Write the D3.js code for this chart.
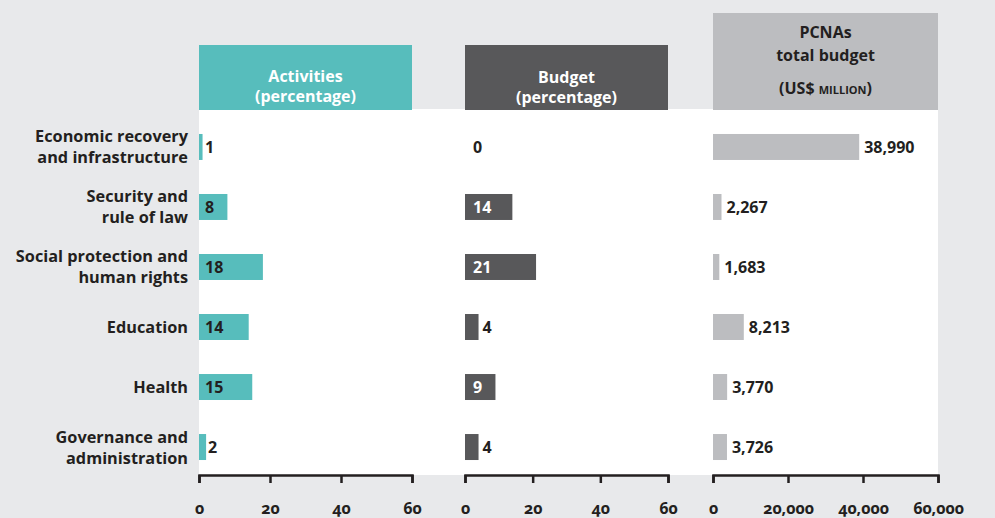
<!DOCTYPE html>
<html><head><meta charset="utf-8">
<script src="https://cdn.jsdelivr.net/npm/d3@7"></script>
<style>
html,body{margin:0;padding:0;background:#e8e9eb;}
svg{display:block;font-family:"Open Sans",sans-serif;}
.onum{font-variant-numeric:oldstyle-nums;font-feature-settings:"onum" 1;}
</style></head>
<body>
<svg id="chart" width="995" height="518"></svg>
<script>
const categories = [
  ["Economic recovery","and infrastructure"],
  ["Security and","rule of law"],
  ["Social protection and","human rights"],
  ["Education"],
  ["Health"],
  ["Governance and","administration"]
];
const activities = [1, 8, 18, 14, 15, 2];
const budget = [0, 14, 21, 4, 9, 4];
const pcnaBudget = [38990, 2267, 1683, 8213, 3770, 3726];
const pctTicks = [0, 20, 40, 60];
const usdTicks = [0, 20000, 40000, 60000];
const headers = {
  act: ["Activities", "(percentage)"],
  bud: ["Budget", "(percentage)"],
  pcna: ["PCNAs", "total budget", "(US$ million)"]
};

const W = 995, H = 518;
const ink = "#231f20", teal = "#57bdbc", dark = "#58585a", grey = "#bcbdc0", bg = "#e8e9eb";
const svg = d3.select("#chart");

const idx = d3.range(categories.length);
const y = d3.scaleBand().domain(idx).range([117, 477]).paddingInner(0.567).paddingOuter(0.283);
const xAct = d3.scaleLinear().domain([0, 60]).range([199, 412]);
const xBud = d3.scaleLinear().domain([0, 60]).range([465, 668]);
const xPc = d3.scaleLinear().domain([0, 60000]).range([713, 938]);

const panelTop = 109, axisY = 475;
// background
svg.append("rect").attr("width", W).attr("height", H).attr("fill", bg);
svg.append("rect").attr("x", xAct(0)).attr("y", panelTop)
  .attr("width", xPc(60000) - xAct(0)).attr("height", axisY - panelTop).attr("fill", "#fff");

// header boxes
function header(x0, x1, top, fill, color, lines, ys) {
  svg.append("rect").attr("x", x0).attr("y", top).attr("width", x1 - x0).attr("height", 110 - top).attr("fill", fill);
  lines.forEach((t, i) => {
    const tx = svg.append("text").attr("x", (x0 + x1) / 2).attr("y", ys[i])
      .attr("text-anchor", "middle").attr("font-size", 16).attr("font-weight", 700)
      .attr("fill", color).text(t);
    if (t.indexOf("million") >= 0) tx.style("font-variant", "small-caps");
  });
}
header(xAct(0), xAct(60), 45, teal, "#fff", headers.act, [82, 102]);
header(xBud(0), xBud(60), 45, dark, "#fff", headers.bud, [83, 103]);
header(xPc(0), xPc(60000), 13, grey, ink, headers.pcna, [38, 61, 94]);

// category labels
const cat = svg.append("g");
idx.forEach(i => {
  const lines = categories[i];
  const c = y(i) + y.bandwidth() / 2;
  const lh = 21;
  lines.forEach((t, j) => {
    cat.append("text").attr("x", 188)
      .attr("y", c + (j - (lines.length - 1) / 2) * lh + 6)
      .attr("text-anchor", "end").attr("font-size", 16.3).attr("font-weight", 700)
      .attr("fill", ink).text(t);
  });
});

// bars
function bars(vals, x, fill) {
  svg.append("g").selectAll("rect").data(vals).join("rect")
    .attr("x", x.range()[0]).attr("y", (d, i) => y(i))
    .attr("width", d => x(d) - x(0)).attr("height", y.bandwidth()).attr("fill", fill);
}
bars(activities, xAct, teal);
bars(budget, xBud, dark);
bars(pcnaBudget, xPc, grey);

const fmt = d3.format(",");
function labels(vals, x, fn) {
  svg.append("g").selectAll("text").data(vals).join("text")
    .attr("y", (d, i) => y(i) + y.bandwidth() / 2 + 6)
    .attr("font-size", 16).attr("font-weight", 700)
    .each(function (d) { const o = fn(d, x); d3.select(this).attr("x", o.x).attr("fill", o.c).text(o.t); });
}
labels(activities, xAct, (d, x) => d >= 8 ? { x: x(0) + 6, c: ink, t: d } : { x: Math.max(x(d) + 2, x(0) + 6), c: ink, t: d });
labels(budget, xBud, (d, x) => d >= 9 ? { x: x(0) + 8, c: "#fff", t: d } : { x: Math.max(x(d) + 4, x(0) + 8), c: ink, t: d });
labels(pcnaBudget, xPc, (d, x) => ({ x: x(d) + 5, c: ink, t: fmt(d) }));

// axes
function axis(x, ticks, f) {
  const g = svg.append("g").attr("transform", `translate(0,${axisY})`)
    .call(d3.axisBottom(x).tickValues(ticks).tickSize(8).tickSizeOuter(8).tickPadding(20).tickFormat(f));
  g.select(".domain").attr("stroke", ink).attr("stroke-width", 2.5);
  g.selectAll(".tick line").attr("stroke", ink).attr("stroke-width", 2.5);
  g.selectAll(".tick text").attr("fill", ink).attr("font-size", 16).attr("font-weight", 700)
    .attr("font-family", "'Open Sans',sans-serif").attr("class", "onum");
}
axis(xAct, pctTicks, d3.format("d"));
axis(xBud, pctTicks, d3.format("d"));
axis(xPc, usdTicks, fmt);
</script>
</body></html>
